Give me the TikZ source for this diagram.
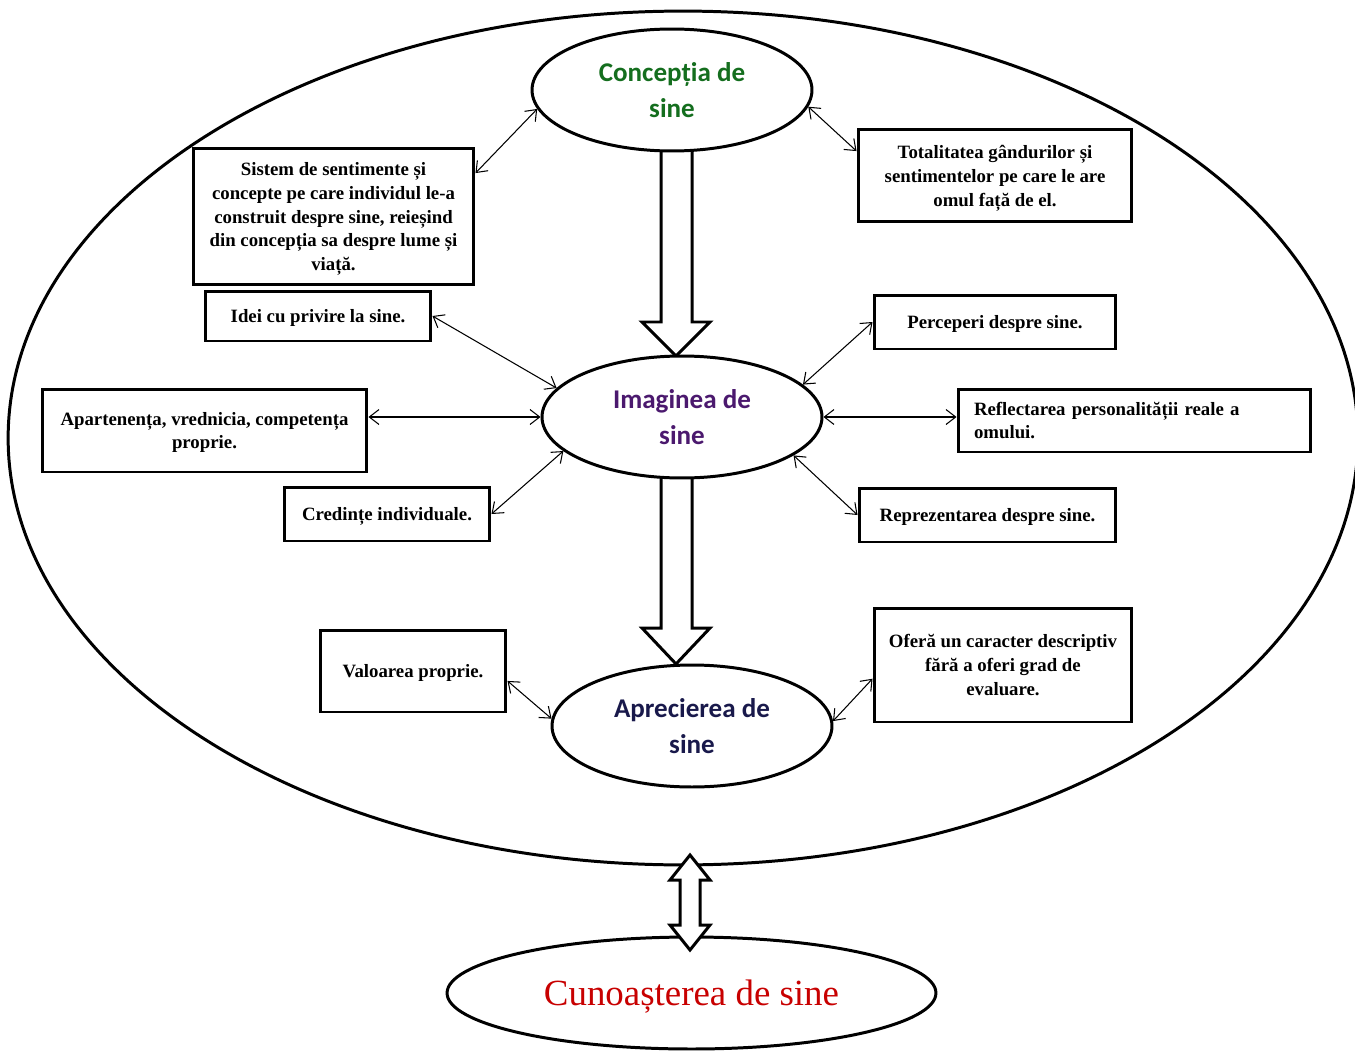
\documentclass[tikz,border=0pt]{standalone}
\usepackage{fontspec}
\setmainfont{Liberation Serif}
\newfontfamily\calibri{Carlito}
\usetikzlibrary{shapes.geometric,arrows.meta}

\definecolor{conceptgreen}{RGB}{20,110,30}
\definecolor{imagpurple}{RGB}{75,25,110}
\definecolor{aprecnavy}{RGB}{25,25,75}
\definecolor{cunred}{RGB}{200,0,0}

\begin{document}
\begin{tikzpicture}[x=0.02cm, y=-0.02cm,
    box/.style={draw, line width=1.7pt, fill=white, inner sep=0pt, align=center, text depth=-3pt, font=\fontsize{10.7}{13.6}\selectfont\bfseries},
    oval/.style={draw, ellipse, line width=1.7pt, fill=white, inner sep=0pt, align=center, text depth=-12pt, minimum width=5.6cm, minimum height=2.44cm, font=\calibri\fontsize{15.4}{21}\selectfont\bfseries},
    link/.style={<->, line width=0.6pt, >={Straight Barb[length=5.5pt,width=8.5pt]}},
    bigarrow/.style={draw, line width=1.7pt, fill=white, line join=miter}]
    \useasboundingbox (0,0) rectangle (1355,1051);

    % Outer ellipse
    \node[draw, ellipse, line width=1.7pt, minimum width=27cm, minimum height=17.08cm] (sinele) at (683,438) {};

    % Block arrows
    \draw[bigarrow] (661,140) -- (692,140) -- (692,322) -- (710,322) -- (676,356) -- (642,322) -- (661,322) -- cycle;
    \draw[bigarrow] (661,470) -- (692,470) -- (692,628) -- (710,628) -- (676,664) -- (642,628) -- (661,628) -- cycle;

    % Main ellipses
    \node[oval, text=conceptgreen] (concep) at (672,90) {Concepția de\\sine};
    \node[oval, text=imagpurple] (imag) at (682,417) {Imaginea de\\sine};
    \node[oval, text=aprecnavy] (aprec) at (692,726) {Aprecierea de\\sine};
    \node[draw, ellipse, line width=1.7pt, fill=white, minimum width=9.78cm, minimum height=2.24cm, text=cunred, text depth=-6pt, font=\fontsize{21}{25}\selectfont] (cunoast) at (691.5,993) {Cunoașterea de sine};

    % Double arrow
    \draw[bigarrow] (690,855) -- (710,880) -- (700,880) -- (700,925) -- (710,925) -- (690,950) -- (670,925) -- (680,925) -- (680,880) -- (670,880) -- cycle;

    % Boxes
    \node[box, minimum width=5.62cm, minimum height=2.74cm] (sistem) at (333.5,216.5) {Sistem de sentimente și\\concepte pe care individul le-a\\construit despre sine, reieșind\\din concepția sa despre lume și\\viață.};
    \node[box, minimum width=5.48cm, minimum height=1.86cm] (total) at (995,175.5) {Totalitatea gândurilor și\\sentimentelor pe care le are\\omul față de el.};
    \node[box, minimum width=4.52cm, minimum height=1cm] (idei) at (318,316) {Idei cu privire la sine.};
    \node[box, minimum width=4.84cm, minimum height=1.08cm] (percep) at (995,322) {Perceperi despre sine.};
    \node[box, minimum width=6.5cm, minimum height=1.66cm] (apart) at (204.5,430.5) {Apartenența, vrednicia, competența\\proprie.};
    \node[box, align=left, text depth={}, text width=6.42cm, inner xsep=0.32cm, minimum height=1.26cm] (reflect) at (1134.5,420.5) {Reflectarea personalității reale a\\omului.};
    \node[box, minimum width=4.12cm, minimum height=1.08cm] (cred) at (387,514) {Credințe individuale.};
    \node[box, minimum width=5.14cm, minimum height=1.08cm] (repr) at (987.5,515) {Reprezentarea despre sine.};
    \node[box, minimum width=3.72cm, minimum height=1.64cm] (valoare) at (413,671) {Valoarea proprie.};
    \node[box, minimum width=5.16cm, minimum height=2.28cm] (ofera) at (1003,665) {Oferă un caracter descriptiv\\fără a oferi grad de\\evaluare.};

    % Links
    \draw[link] (concep.188) -- (sistem.17.6);
    \draw[link] (concep.353.4) -- (total.170.3);
    \draw[link] (idei.east) -- (imag.167.7);
    \draw[link] (apart.east |- imag.west) -- (imag.west);
    \draw[link] (cred.east) -- (imag.196);
    \draw[link] (percep.west) -- (imag.15.9);
    \draw[link] (imag.east) -- (imag.east -| reflect.west);
    \draw[link] (repr.west) -- (imag.341.4);
    \draw[link] (valoare.354.5) -- (aprec.177.6);
    \draw[link] (aprec.2.5) -- (ofera.186.6);
\end{tikzpicture}
\end{document}
